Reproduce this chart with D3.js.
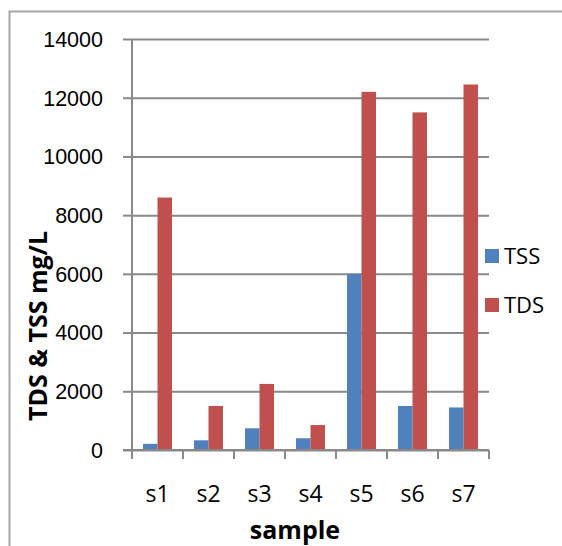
<!DOCTYPE html>
<html>
<head>
<meta charset="utf-8">
<script src="https://cdn.jsdelivr.net/npm/d3@7"></script>
<style>
  html, body { margin: 0; padding: 0; background: #fff; overflow: hidden; }
  svg { display: block; font-family: "Open Sans", "Noto Sans", sans-serif; }
</style>
</head>
<body>
<div id="chart"></div>
<script>
// samples along the x axis
const samples = ['s1', 's2', 's3', 's4', 's5', 's6', 's7'];
const seriesNames = ['TSS', 'TDS'];
// mg/L
const tss = [210, 330, 740, 400, 6000, 1500, 1450];
const tds = [8600, 1500, 2250, 850, 12200, 11500, 12450];
const yTicks = [0, 2000, 4000, 6000, 8000, 10000, 12000, 14000];

const colors = {TSS: '#4f81bd', TDS: '#c0504d'};
const gridColor = '#898989';

const width = 562;
const height = 546;
const plot = {left: 132, right: 489, top: 39, bottom: 450};

const svg = d3.select('#chart')
  .append('svg')
  .attr('width', width)
  .attr('height', height);

// outer frame of the chart area, only top and left edges are in view
svg.append('path')
  .attr('d', `M9.5,${height}V11.5H${width}`)
  .attr('fill', 'none')
  .attr('stroke', '#a6a6a6')
  .attr('stroke-width', 2);

const x = d3.scaleBand()
  .domain(samples)
  .range([plot.left, plot.right])
  .paddingInner(0)
  .paddingOuter(0);

const xInner = d3.scaleBand()
  .domain(seriesNames)
  .range([0, x.bandwidth()])
  .paddingInner(0)
  .paddingOuter(0.76);

const y = d3.scaleLinear()
  .domain([0, 14000])
  .range([plot.bottom, plot.top]);

// gridlines + y axis
const yAxis = svg.append('g')
  .attr('transform', `translate(${plot.left},0)`)
  .call(d3.axisLeft(y).tickValues(yTicks).tickSize(9).tickPadding(20).tickFormat(d3.format('d')));

yAxis.select('.domain').remove();
yAxis.selectAll('.tick line')
  .attr('stroke', gridColor)
  .attr('stroke-width', 2);
yAxis.selectAll('.tick')
  .append('line')
  .attr('x1', 0)
  .attr('x2', plot.right - plot.left)
  .attr('stroke', gridColor)
  .attr('stroke-width', 2);
yAxis.selectAll('.tick text')
  .attr('fill', '#000')
  .attr('font-size', 21.5)
  .attr('dy', '0.34em');

// bars
const rows = samples.map((s, i) => ({sample: s, TSS: tss[i], TDS: tds[i]}));

svg.append('g')
  .selectAll('g')
  .data(rows)
  .join('g')
  .attr('transform', d => `translate(${x(d.sample)},0)`)
  .selectAll('rect')
  .data(d => seriesNames.map(k => ({key: k, value: d[k]})))
  .join('rect')
  .attr('x', d => xInner(d.key))
  .attr('width', xInner.bandwidth())
  .attr('y', d => y(d.value))
  .attr('height', d => y(0) - y(d.value))
  .attr('fill', d => colors[d.key]);

// x axis with ticks between categories
const xAxis = svg.append('g')
  .attr('transform', `translate(0,${plot.bottom})`);

xAxis.append('line')
  .attr('x1', plot.left - 9)
  .attr('x2', plot.right)
  .attr('stroke', gridColor)
  .attr('stroke-width', 2);

xAxis.selectAll('line.sep')
  .data(samples.map(s => x(s)).concat([plot.right]))
  .join('line')
  .attr('class', 'sep')
  .attr('x1', d => d)
  .attr('x2', d => d)
  .attr('y1', 0)
  .attr('y2', 9)
  .attr('stroke', gridColor)
  .attr('stroke-width', 2);

// y axis line
svg.append('line')
  .attr('x1', plot.left)
  .attr('x2', plot.left)
  .attr('y1', plot.top)
  .attr('y2', plot.bottom + 9)
  .attr('stroke', gridColor)
  .attr('stroke-width', 2);

xAxis.selectAll('text')
  .data(samples)
  .join('text')
  .attr('x', d => x(d) + x.bandwidth() / 2)
  .attr('y', 52)
  .attr('text-anchor', 'middle')
  .attr('font-size', 23)
  .text(d => d);

// axis titles
svg.append('text')
  .attr('x', 295)
  .attr('y', 539)
  .attr('text-anchor', 'middle')
  .attr('font-size', 25)
  .attr('font-weight', 'bold')
  .text('sample');

svg.append('text')
  .attr('transform', 'translate(47,326) rotate(-90)')
  .attr('text-anchor', 'middle')
  .attr('font-size', 25)
  .attr('font-weight', 'bold')
  .text('TDS & TSS mg/L');

// legend
const legend = svg.append('g')
  .attr('transform', 'translate(485,249)');

const item = legend.selectAll('g')
  .data(seriesNames)
  .join('g')
  .attr('transform', (d, i) => `translate(0,${i * 49})`);

item.append('rect')
  .attr('width', 14)
  .attr('height', 14)
  .attr('fill', d => colors[d]);

item.append('text')
  .attr('x', 19)
  .attr('y', 15)
  .attr('font-size', 22)
  .text(d => d);
</script>
</body>
</html>
